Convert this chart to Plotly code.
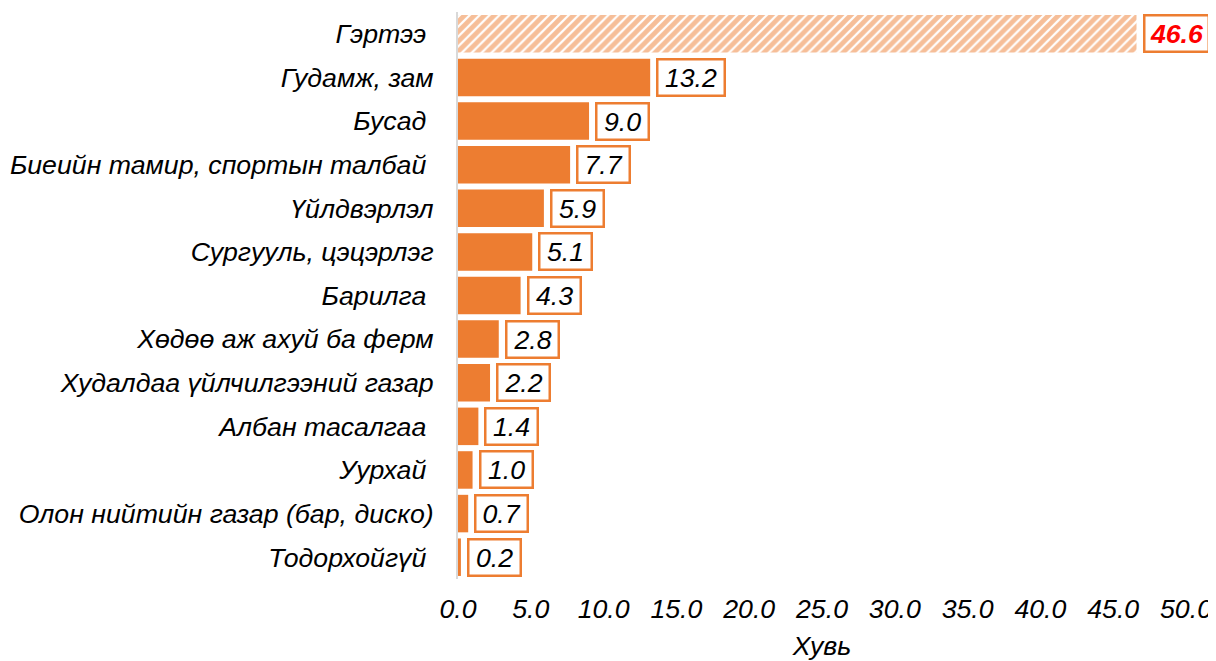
import plotly.graph_objects as go

categories = [
    "Гэртээ\u00a0",
    "Гудамж, зам",
    "Бусад\u00a0",
    "Биеийн тамир, спортын талбай\u00a0",
    "Үйлдвэрлэл",
    "Сургууль, цэцэрлэг",
    "Барилга\u00a0",
    "Хөдөө аж ахуй ба ферм",
    "Худалдаа үйлчилгээний газар",
    "Албан тасалгаа\u00a0",
    "Уурхай\u00a0",
    "Олон нийтийн газар (бар, диско)",
    "Тодорхойгүй\u00a0",
]
values = [46.6, 13.2, 9.0, 7.7, 5.9, 5.1, 4.3, 2.8, 2.2, 1.4, 1.0, 0.7, 0.2]
x_ticks = [0, 5, 10, 15, 20, 25, 30, 35, 40, 45, 50]
x_title = "Хувь"

ORANGE = "#ED7D31"
FONT = "Liberation Sans, Arial, sans-serif"
FS = 26.7

shapes = ["/"] + [""] * (len(values) - 1)

fig = go.Figure(
    go.Bar(
        x=values,
        y=categories,
        orientation="h",
        marker=dict(
            color=ORANGE,
            line=dict(width=0),
            pattern=dict(shape=shapes, fgcolor=ORANGE, bgcolor="white", size=7, solidity=0.68),
        ),
        hoverinfo="skip",
    )
)

def text_width(s, size=FS):
    w = 0
    for ch in s:
        w += 0.278 if ch == "." else 0.556
    return w * size

annotations = []
for i, (c, v) in enumerate(zip(categories, values)):
    label = f"{v:.1f}"
    first = i == 0
    annotations.append(
        dict(
            x=v, y=c, xref="x", yref="y",
            text=f"<b>{label}</b>" if first else label,
            showarrow=False,
            xanchor="left", yanchor="middle",
            xshift=6,
            font=dict(family=FONT, size=FS, color="#FF0000" if first else "black", style="italic"),
            bordercolor=ORANGE, borderwidth=2.5, borderpad=0,
            bgcolor="white",
            width=text_width(label) + (10 if first else 13),
            height=34,
            align="center",
        )
    )

fig.update_layout(
    width=1208, height=653,
    margin=dict(l=450, r=30, t=4, b=82),
    paper_bgcolor="white", plot_bgcolor="white",
    bargap=0.14,
    showlegend=False,
    font=dict(family=FONT, size=FS, color="black", style="italic"),
    annotations=annotations,
    xaxis=dict(
        range=[0, 50],
        tickvals=x_ticks,
        tickformat=".1f",
        showgrid=False, zeroline=False, showline=False,
        ticks="",
        automargin=False,
        ticklabelstandoff=11,
        tickfont=dict(family=FONT, size=FS, color="black", style="italic"),
        title=dict(text=x_title, font=dict(family=FONT, size=FS, color="black", style="italic"), standoff=16),
    ),
    yaxis=dict(
        autorange="reversed",
        showgrid=False, zeroline=False,
        showline=True, linecolor="#D9D9D9", linewidth=2,
        ticks="",
        automargin=False,
        ticklabelstandoff=17,
        tickfont=dict(family=FONT, size=FS, color="black", style="italic"),
    ),
)

fig.write_html("out.html")
